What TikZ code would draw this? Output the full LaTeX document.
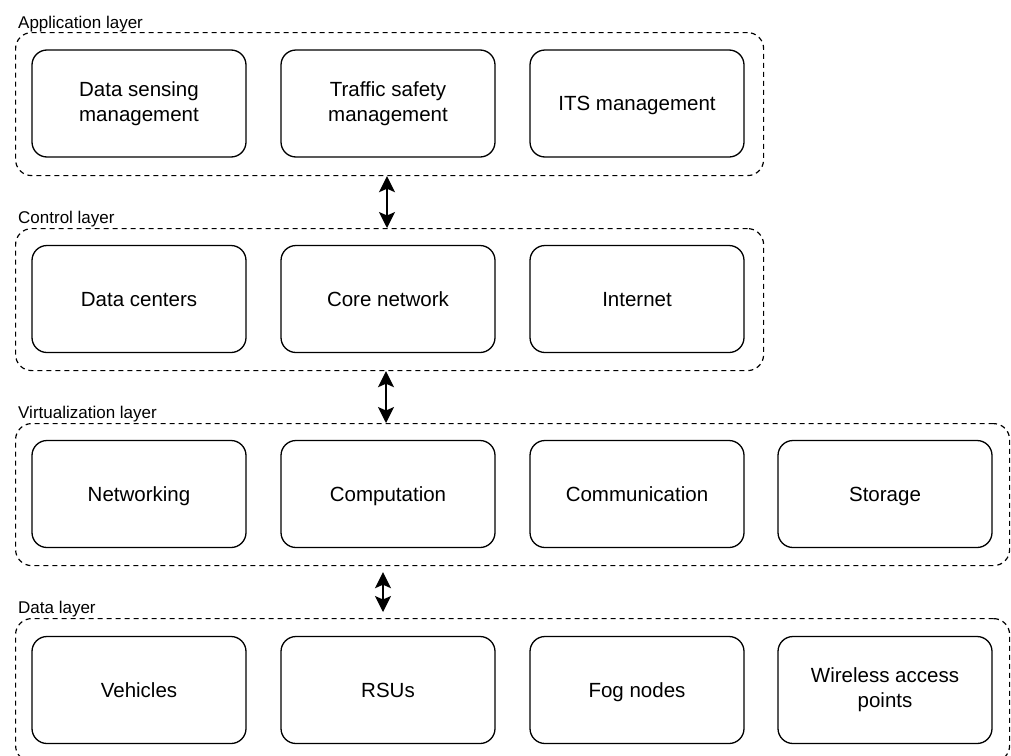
\documentclass[tikz,border=0pt]{standalone}
\usepackage{fontspec}
\setmainfont{Liberation Sans}
\usetikzlibrary{arrows.meta}
\begin{document}
\begin{tikzpicture}[x=1pt,y=-1pt,
  container/.style={draw, line width=1.2pt, dash pattern=on 5pt off 4pt, rounded corners=16pt, anchor=north west, inner sep=0pt},
  box/.style={draw, line width=1.3pt, rounded corners=15pt, minimum width=214pt, minimum height=107pt, align=center, font=\fontsize{20.5}{25}\selectfont, inner sep=0pt},
  one/.style={text height=14.7pt, text depth=0pt},
  lbl/.style={anchor=base west, inner sep=0pt, font=\fontsize{17}{19}\selectfont},
  biarrow/.style={line width=1.4pt, {Stealth[length=16pt,width=16pt,inset=3.5pt]}-{Stealth[length=16pt,width=16pt,inset=3.5pt]}}
]
\useasboundingbox (0,0) rectangle (1011,755);
\clip (0,0) rectangle (1011,755);
% containers
\node[container, minimum width=748pt, minimum height=143pt] (app) at (15,32) {};
\node[container, minimum width=748pt, minimum height=142pt] (ctl) at (15,228) {};
\node[container, minimum width=994pt, minimum height=142pt] (virt) at (15,423) {};
\node[container, minimum width=994pt, minimum height=143pt] (data) at (15,618) {};
% labels
\node[lbl] (lapp) at (18,28) {Application layer};
\node[lbl] (lctl) at (18,223) {Control layer};
\node[lbl] (lvirt) at (18,418) {Virtualization layer};
\node[lbl] (ldata) at (18,613) {Data layer};
% application layer
\node[box] (a1) at (139,103.5) {Data sensing\\management};
\node[box] (a2) at (388,103.5) {Traffic safety\\management};
\node[box, one] (a3) at (637,103.5) {ITS management};
% control layer
\node[box, one] (c1) at (139,299) {Data centers};
\node[box, one] (c2) at (388,299) {Core network};
\node[box, one] (c3) at (637,299) {Internet};
% virtualization layer
\node[box, one] (v1) at (139,494) {Networking};
\node[box, one] (v2) at (388,494) {Computation};
\node[box, one] (v3) at (637,494) {Communication};
\node[box, one] (v4) at (885,494) {Storage};
% data layer
\node[box, one] (d1) at (139,690) {Vehicles};
\node[box, one] (d2) at (388,690) {RSUs};
\node[box, one] (d3) at (637,690) {Fog nodes};
\node[box] (d4) at (885,690) {Wireless access\\points};
% arrows
\coordinate (x1) at (387,0);
\coordinate (x2) at (386,0);
\coordinate (x3) at (383,0);
\draw[biarrow] (app.south -| x1) -- (ctl.north -| x1);
\draw[biarrow] (ctl.south -| x2) -- (virt.north -| x2);
\draw[biarrow, shorten <=6pt, shorten >=6pt] (virt.south -| x3) -- (data.north -| x3);
\end{tikzpicture}
\end{document}
